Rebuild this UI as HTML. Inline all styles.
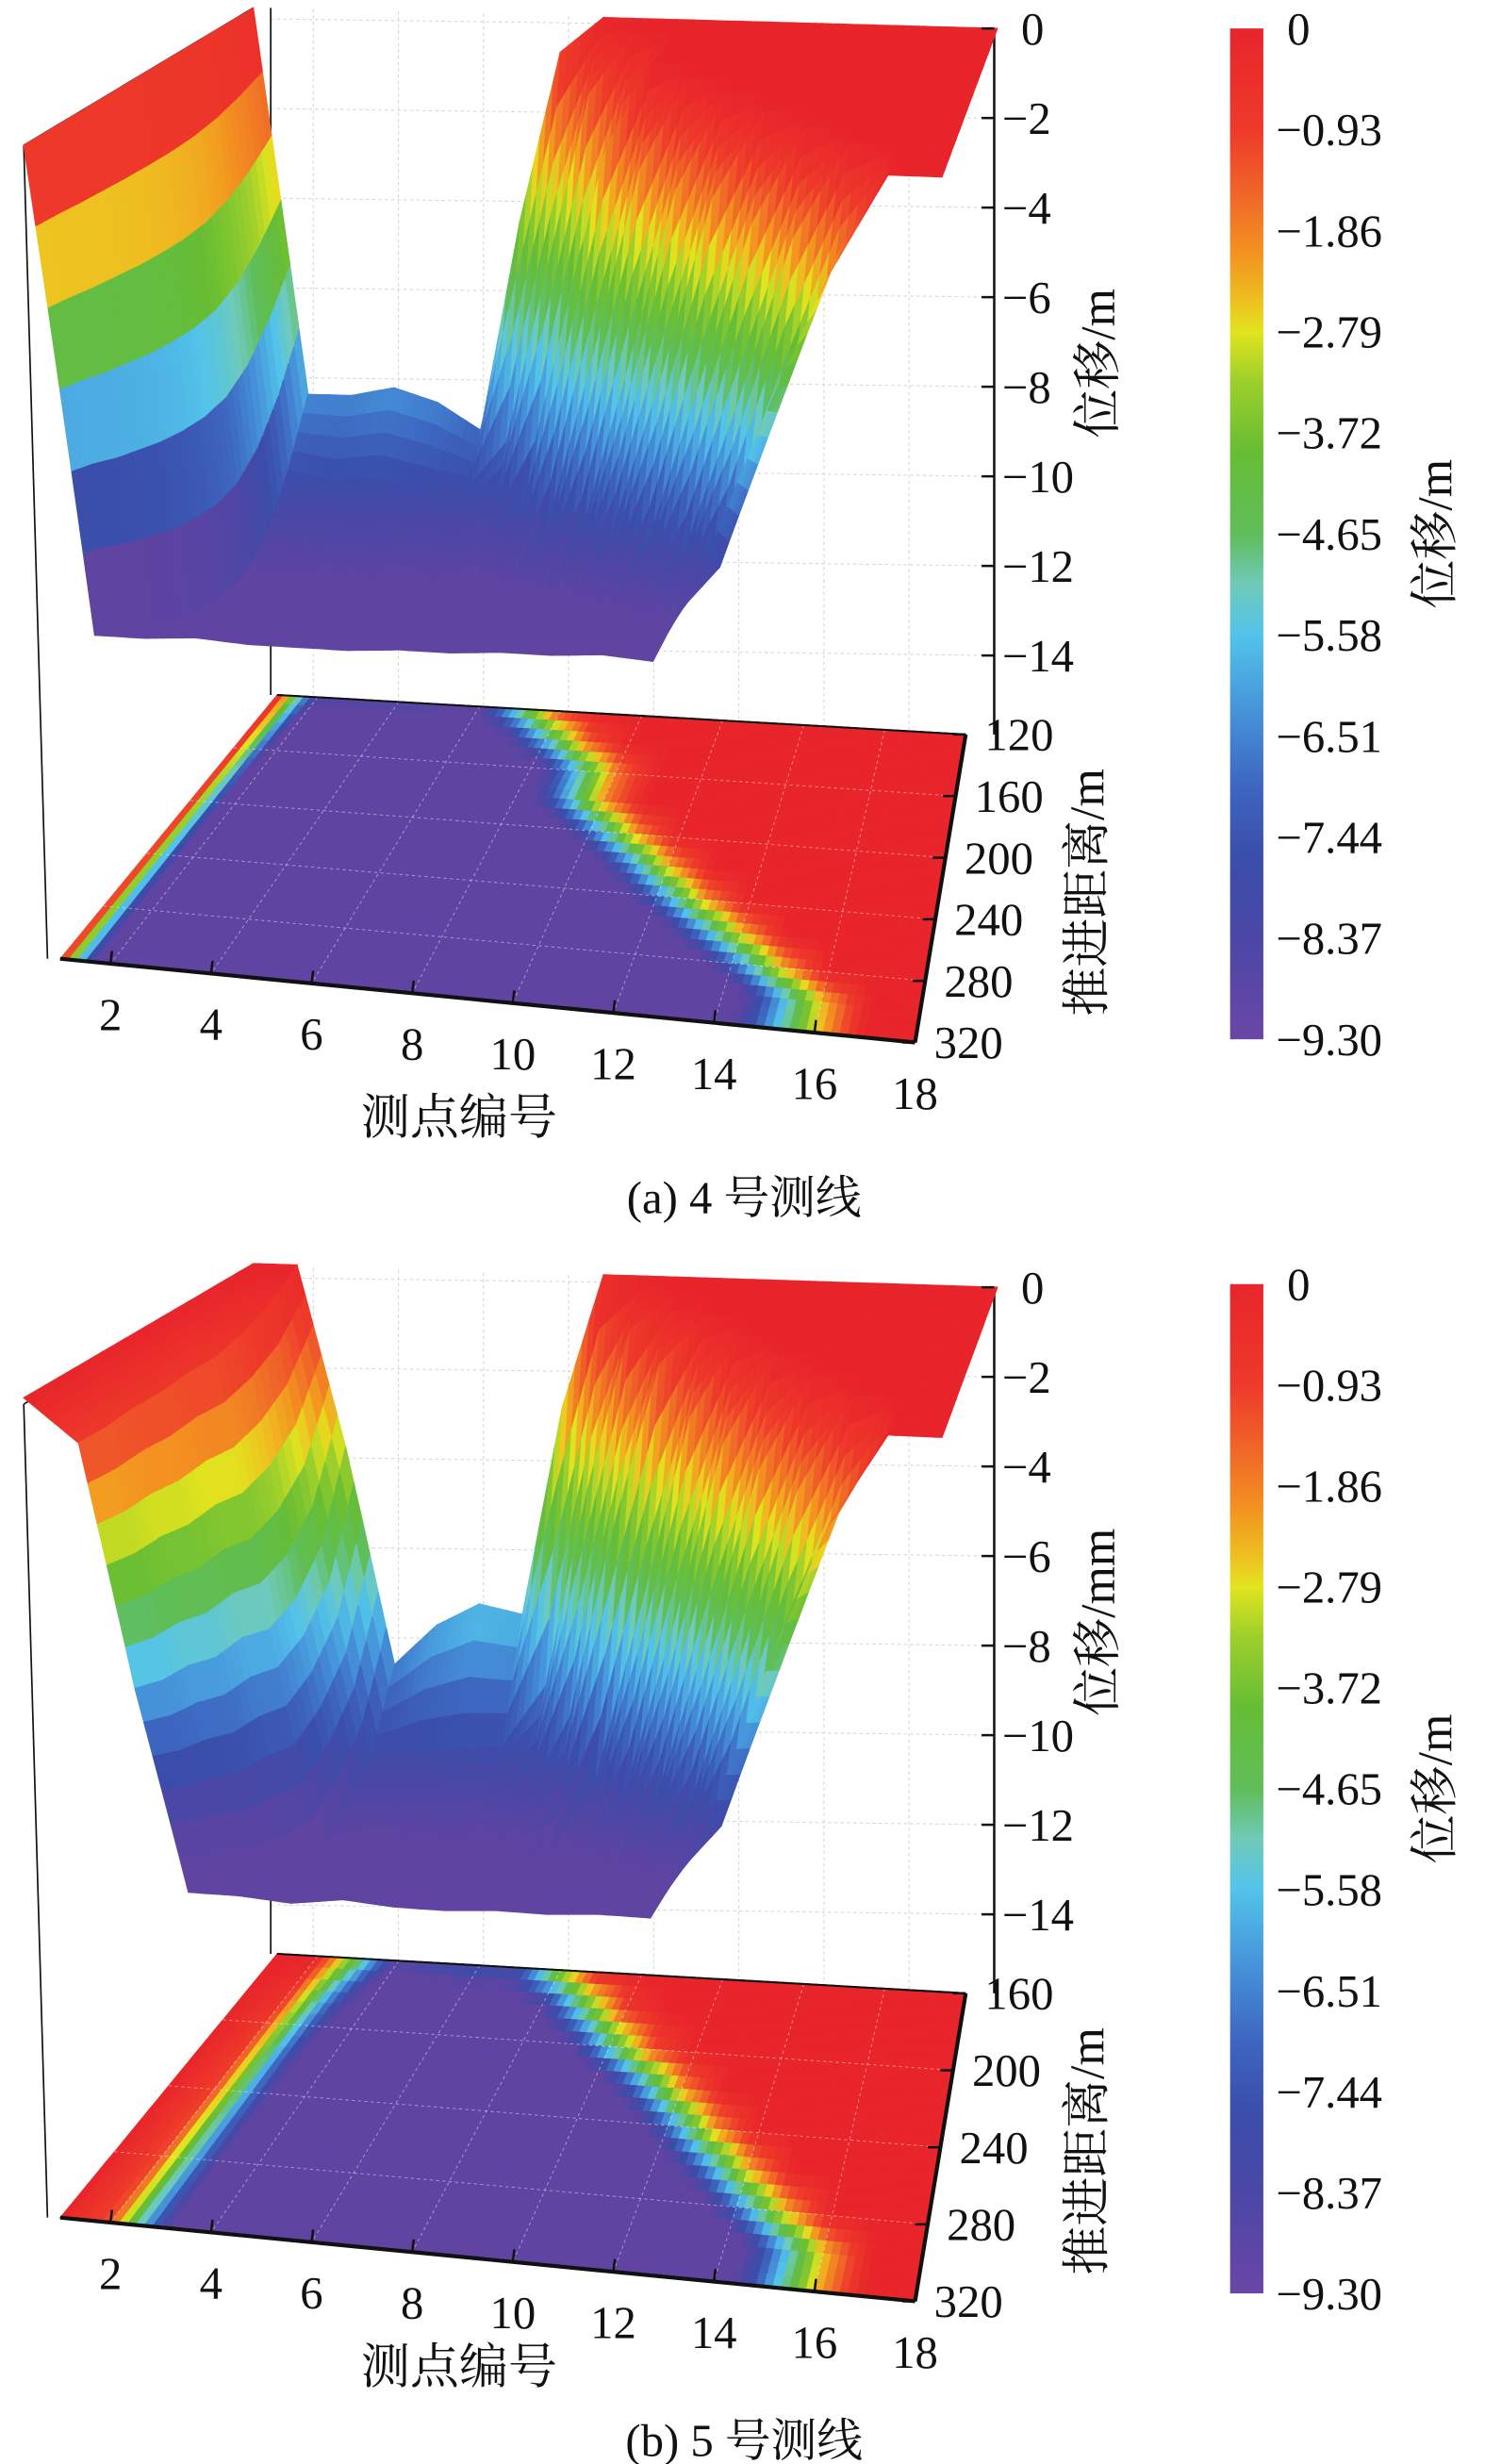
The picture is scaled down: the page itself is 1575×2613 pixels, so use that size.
<!DOCTYPE html>
<html><head><meta charset="utf-8"><style>
html,body{margin:0;padding:0;background:#fff;}
svg{display:block;}
text{font-family:"Liberation Serif","Noto Serif CJK SC","Noto Sans CJK SC",serif;fill:#111;}
</style></head><body>
<svg id="fig" xmlns="http://www.w3.org/2000/svg" width="1575" height="2613" viewBox="0 0 938 1560" preserveAspectRatio="none">
<defs>
<linearGradient id="cbar" x1="0" y1="0" x2="0" y2="1">
<stop offset="0" stop-color="#e8252b"/><stop offset="0.1" stop-color="#ee3a2a"/><stop offset="0.17" stop-color="#f06a28"/><stop offset="0.22" stop-color="#f39020"/><stop offset="0.27" stop-color="#eec020"/><stop offset="0.3" stop-color="#e2e41e"/><stop offset="0.35" stop-color="#9ccf2c"/><stop offset="0.42" stop-color="#66bd34"/><stop offset="0.5" stop-color="#5fbe5a"/><stop offset="0.55" stop-color="#6fcab8"/><stop offset="0.6" stop-color="#52c3ea"/><stop offset="0.68" stop-color="#4590d8"/><stop offset="0.75" stop-color="#3d66c0"/><stop offset="0.82" stop-color="#3a4eaa"/><stop offset="0.9" stop-color="#4b47a6"/><stop offset="1" stop-color="#6a46a6"/>
</linearGradient>
</defs>
<g id="panelA"></g>
<g id="panelB"></g>
</svg>
<script>
// ---- data ----
const points = [1,2,3,4,5,6,7,8,9,10,11,12,13,14,15,16,17,18];
const pointTicks = [2,4,6,8,10,12,14,16,18];
const zTicks = [0,-2,-4,-6,-8,-10,-12,-14];
const cbarTicks = ["0","−0.93","−1.86","−2.79","−3.72","−4.65","−5.58","−6.51","−7.44","−8.37","−9.30"];
const distA = [120,140,160,180,200,220,240,260,280,300,320];
const distTicksA = [120,160,200,240,280,320];
const distB = [160,180,200,220,240,260,280,300,320];
const distTicksB = [160,200,240,280,320];
const dispA = [
[0,-8.6,-8.6,-8.4,-8.7,-9.3,-4.6,-0.8,0,0,0,0,0,0,0,0,0,0],
[0,-10.2,-10.4,-10.3,-10.5,-10.6,-9.4,-5.4,-1.4,0,0,0,0,0,0,0,0,0],
[0,-11.5,-11.6,-11.4,-11.6,-11.8,-11.6,-10.4,-6.0,-1.8,0,0,0,0,0,0,0,0],
[0,-12.4,-12.5,-12.3,-12.6,-12.7,-12.6,-10.8,-6.5,-2.0,0,0,0,0,0,0,0,0],
[0,-12.9,-13.0,-12.8,-13.0,-13.1,-13.0,-12.9,-11.0,-6.8,-2.2,0,0,0,0,0,0,0],
[0,-13.2,-13.3,-13.1,-13.2,-13.4,-13.3,-13.2,-13.1,-11.2,-7.0,-2.4,0,0,0,0,0,0],
[0,-13.4,-13.4,-13.3,-13.4,-13.5,-13.5,-13.4,-13.3,-13.2,-10.8,-6.8,-2.2,0,0,0,0,0],
[0,-13.5,-13.5,-13.4,-13.5,-13.6,-13.5,-13.5,-13.4,-13.3,-13.2,-11.0,-6.8,-2.5,0,0,0,0],
[0,-13.6,-13.6,-13.5,-13.6,-13.6,-13.6,-13.5,-13.5,-13.4,-13.3,-12.8,-11.0,-7.0,-2.5,0,0,0],
[0,-13.6,-13.7,-13.6,-13.6,-13.7,-13.6,-13.6,-13.5,-13.5,-13.4,-13.3,-12.6,-11.0,-6.8,-2.6,0,0],
[0,-13.7,-13.7,-13.6,-13.7,-13.7,-13.7,-13.6,-13.6,-13.5,-13.5,-13.4,-13.5,-10.5,-6.5,-2.8,0,0]
];
const dispB = [
[0,0,-4.0,-8.8,-7.9,-7.4,-7.6,-3.0,0,0,0,0,0,0,0,0,0,0],
[0,-0.5,-6.0,-10.8,-10.6,-10.5,-10.4,-9.0,-4.5,-0.8,0,0,0,0,0,0,0,0],
[0,-0.8,-7.0,-12.0,-12.1,-12.0,-11.9,-11.5,-9.5,-5.0,-1.2,0,0,0,0,0,0,0],
[0,-1.0,-7.5,-13.0,-13.0,-12.9,-13.0,-12.8,-12.6,-10.8,-6.5,-2.0,0,0,0,0,0,0],
[0,-1.0,-7.5,-13.3,-13.3,-13.2,-13.3,-13.2,-13.1,-12.9,-11.0,-6.8,-2.2,0,0,0,0,0],
[0,-1.1,-7.8,-13.5,-13.4,-13.6,-13.3,-13.5,-13.4,-13.3,-13.1,-11.0,-6.8,-2.4,0,0,0,0],
[0,-1.1,-7.8,-13.6,-13.5,-13.6,-13.4,-13.6,-13.5,-13.4,-13.3,-12.8,-11.0,-6.8,-2.5,0,0,0],
[0,-1.2,-8.0,-13.6,-13.6,-13.7,-13.5,-13.6,-13.6,-13.5,-13.4,-13.3,-12.6,-11.0,-6.8,-2.6,0,0],
[0,-1.2,-8.0,-13.6,-13.6,-13.7,-13.5,-13.6,-13.6,-13.5,-13.5,-13.4,-13.4,-10.8,-6.5,-2.5,0,0]
];
// ---- rendering ----
const NS="http://www.w3.org/2000/svg";
const stops=[[0,[232,37,43]],[0.1,[238,58,42]],[0.17,[240,106,40]],[0.22,[243,144,32]],[0.27,[238,192,32]],[0.3,[226,228,30]],[0.35,[156,207,44]],[0.42,[102,189,52]],[0.5,[95,190,90]],[0.55,[111,202,184]],[0.6,[82,195,234]],[0.68,[69,144,216]],[0.75,[61,102,192]],[0.82,[58,78,170]],[0.9,[75,71,166]],[1,[96,68,162]]];
function cmap(f){f=Math.max(0,Math.min(1,f));for(let i=1;i<stops.length;i++){if(f<=stops[i][0]){const a=stops[i-1],b=stops[i];const t=(f-a[0])/(b[0]-a[0]);const c=a[1].map((v,k)=>Math.round(v+(b[1][k]-v)*t));return `rgb(${c[0]},${c[1]},${c[2]})`;}}return "rgb(96,68,162)";}
function mk(parent,tag,attrs,txt){const e=document.createElementNS(NS,tag);for(const k in attrs)e.setAttribute(k,attrs[k]);if(txt!==undefined)e.textContent=txt;parent.appendChild(e);return e;}
function bil(c,u,v){const bx=c.bl[0]+(c.br[0]-c.bl[0])*u,by=c.bl[1]+(c.br[1]-c.bl[1])*u;const fx=c.fl[0]+(c.fr[0]-c.fl[0])*u,fy=c.fl[1]+(c.fr[1]-c.fl[1])*u;return [bx+(fx-bx)*v,by+(fy-by)*v];}
function zAt(data,ri,pi){
const r0=Math.min(Math.floor(ri),data.length-2),c0=Math.min(Math.floor(pi),16);const tr=ri-r0,tc=pi-c0;
const a=data[r0][c0],b=data[r0][c0+1],c=data[r0+1][c0],d=data[r0+1][c0+1];
return (a*(1-tc)+b*tc)*(1-tr)+(c*(1-tc)+d*tc)*tr;}
function drawPanel(g,cfg){
const data=cfg.data,dist=cfg.dist,nr=dist.length;const dmin=dist[0],dmax=dist[nr-1];
const oy=cfg.oy;
const sh=p=>[p[0],p[1]+oy];
const floorC={bl:[175,440],br:[610,465],fr:[578,660],fl:[38,607]};
const topC=cfg.topC,botC=cfg.botC;
const fl=(p,d)=>sh(bil(floorC,(p-1)/17,(d-dmin)/(dmax-dmin)));
const surf=(p,d,z)=>{const u=(p-1)/17,v=(d-dmin)/(dmax-dmin);const a=bil(topC,u,v),b=bil(botC,u,v);const s=-z/14;return sh([a[0]+(b[0]-a[0])*s,a[1]+(b[1]-a[1])*s]);};
const grid=mk(g,"g",{stroke:"#d2d2d2","stroke-width":"0.6","stroke-dasharray":"2,2",fill:"none"});
zTicks.forEach(z=>{const y=oy+cfg.zTop+(-z)*397/14;mk(grid,"line",{x1:171,y1:y-6,x2:628,y2:y});});
pointTicks.forEach(p=>{const x=171+(p-1)/17*457;mk(grid,"line",{x1:x,y1:oy+5+(x-171)*0.028,x2:x,y2:fl(p,dmin)[1]});});
const bx=mk(g,"g",{stroke:"#111",fill:"none"});
mk(bx,"line",{x1:15,y1:oy+92,x2:30,y2:oy+607,"stroke-width":"1"});
mk(bx,"line",{x1:15,y1:oy+92,x2:160,y2:oy+5,"stroke-width":"1"});
mk(bx,"line",{x1:171,y1:oy+5,x2:171,y2:oy+440,"stroke-width":"1"});
mk(bx,"line",{x1:628,y1:oy+18,x2:628,y2:oy+465,"stroke-width":"1.5"});
// floor
const fg=mk(g,"g",{});
const SP=6,SD=3;
for(let r=0;r<nr-1;r++)for(let c=0;c<17;c++)for(let i=0;i<SD;i++)for(let j=0;j<SP;j++){
 const ri0=r+i/SD,ri1=r+(i+1)/SD,pi0=c+j/SP,pi1=c+(j+1)/SP;
 const z=zAt(data,(ri0+ri1)/2,(pi0+pi1)/2);
 const d0=dmin+ri0*(dist[1]-dist[0]),d1=dmin+ri1*(dist[1]-dist[0]);
 const pts=[fl(pi0+1,d0),fl(pi1+1,d0),fl(pi1+1,d1),fl(pi0+1,d1)];
 const col=cmap(-z/9.3);
 mk(fg,"polygon",{points:pts.map(q=>q.map(v=>v.toFixed(1)).join(",")).join(" "),fill:col,stroke:col,"stroke-width":"0.5"});
}
const fgl=mk(g,"g",{stroke:"#ffffff","stroke-opacity":"0.45","stroke-width":"0.6","stroke-dasharray":"2,2"});
pointTicks.forEach(p=>{const a=fl(p,dmin),b=fl(p,dmax);mk(fgl,"line",{x1:a[0],y1:a[1],x2:b[0],y2:b[1]});});
cfg.distTicks.forEach(d=>{const a=fl(1,d),b=fl(18,d);mk(fgl,"line",{x1:a[0],y1:a[1],x2:b[0],y2:b[1]});});
// surface
const sg=mk(g,"g",{});
const SP2=6,SD2=4;
for(let r=0;r<nr-1;r++)for(let i=0;i<SD2;i++)for(let c=0;c<17;c++)for(let j=0;j<SP2;j++){
 const ri0=r+i/SD2,ri1=r+(i+1)/SD2,pi0=c+j/SP2,pi1=c+(j+1)/SP2;
 const step=dist[1]-dist[0];const d0=dmin+ri0*step,d1=dmin+ri1*step;
 const z00=zAt(data,ri0,pi0),z01=zAt(data,ri0,pi1),z10=zAt(data,ri1,pi0),z11=zAt(data,ri1,pi1);
 const pts=[surf(pi0+1,d0,z00),surf(pi1+1,d0,z01),surf(pi1+1,d1,z11),surf(pi0+1,d1,z10)];
 const col=cmap(-(z00+z01+z10+z11)/4/12.5);
 mk(sg,"polygon",{points:pts.map(q=>q.map(v=>v.toFixed(1)).join(",")).join(" "),fill:col,stroke:col,"stroke-width":"0.7"});
}
const FL=fl(1,dmax),FR=fl(18,dmax),BR=fl(18,dmin),BL=fl(1,dmin);
mk(bx,"line",{x1:BL[0],y1:BL[1],x2:BR[0],y2:BR[1],"stroke-width":"1.2"});
const fe=mk(g,"g",{stroke:"#111",fill:"none"});
mk(fe,"line",{x1:BL[0],y1:BL[1],x2:BR[0],y2:BR[1],"stroke-width":"1.2"});
mk(fe,"line",{x1:FL[0],y1:FL[1],x2:FR[0],y2:FR[1],"stroke-width":"2.5"});
mk(fe,"line",{x1:BR[0],y1:BR[1],x2:FR[0],y2:FR[1],"stroke-width":"2.5"});
const zt=mk(g,"g",{});
zTicks.forEach(z=>{const y=oy+cfg.zTop+(-z)*397/14;mk(zt,"line",{x1:620,y1:y,x2:628,y2:y,stroke:"#111","stroke-width":"1.5"});
 const t=mk(zt,"text",{x:z===0?645:633,y:y+10,"font-size":"29"},z===0?"0":"−"+(-z));
 
 });
mk(g,"text",{transform:`translate(704,${oy+230}) rotate(-90)`,"font-size":"31","text-anchor":"middle",},cfg.zTitle);
const dt=mk(g,"g",{});
cfg.distTicks.forEach(d=>{const p=fl(18,d);mk(dt,"line",{x1:p[0]-8,y1:p[1],x2:p[0],y2:p[1],stroke:"#111","stroke-width":"1.5"});
 const t=mk(dt,"text",{x:p[0]+12,y:p[1]+10,"font-size":"29"},String(d));
 
 });
mk(g,"text",{transform:`translate(697,${oy+565}) rotate(-90)`,"font-size":"31","text-anchor":"middle",},"推进距离/m");
const pt=mk(g,"g",{});
pointTicks.forEach(p=>{const a=fl(p,dmax);mk(pt,"line",{x1:a[0],y1:a[1],x2:a[0]+1,y2:a[1]-8,stroke:"#111","stroke-width":"1.5"});
 const t=mk(pt,"text",{x:a[0],y:a[1]+42,"font-size":"29","text-anchor":"middle"},String(p));
 
 });
mk(g,"text",{x:290,y:oy+cfg.titleY,"font-size":"31","text-anchor":"middle",},"测点编号");
mk(g,"text",{x:470,y:oy+cfg.capY,"font-size":"29","text-anchor":"middle",},cfg.caption);
const cb=mk(g,"g",{});
const cy0=oy+cfg.cbTop,cy1=oy+cfg.cbBot;
mk(cb,"rect",{x:777,y:cy0,width:21,height:cy1-cy0,fill:"url(#cbar)"});
cbarTicks.forEach((s,i)=>{const y=cy0+(cy1-cy0)*i/(cbarTicks.length-1);
 const t=mk(cb,"text",{x:i===0?813:806,y:y+10,"font-size":"29"},s);
 
 });
mk(cb,"text",{transform:`translate(917,${(cy0+cy1)/2}) rotate(-90)`,"font-size":"31","text-anchor":"middle"},"位移/m");
}
drawPanel(document.getElementById("panelA"),{data:dispA,dist:distA,distTicks:distTicksA,oy:0,zTop:18,zTitle:"位移/m",caption:"(a) 4 号测线",cbTop:18,cbBot:658,titleY:718,capY:768,
 topC:{fl:[15,92],bl:[160,5],br:[630,18],fr:[595,112]},botC:{fl:[28,407],bl:[172,402],br:[630,415],fr:[572,440]}});
drawPanel(document.getElementById("panelB"),{data:dispB,dist:distB,distTicks:distTicksB,oy:797,zTop:18,zTitle:"位移/mm",caption:"(b) 5 号测线",cbTop:16,cbBot:655,titleY:712,capY:758,
 topC:{fl:[15,88],bl:[160,3],br:[630,18],fr:[595,113]},botC:{fl:[22,403],bl:[172,403],br:[630,416],fr:[572,443]}});
</script>
</body></html>
